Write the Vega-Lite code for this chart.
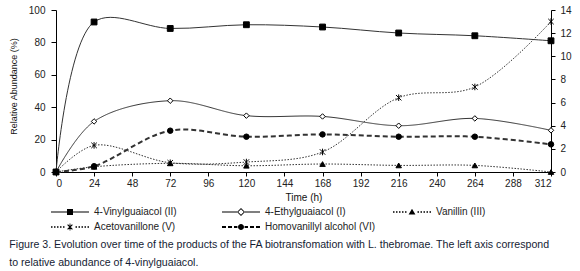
{
  "$schema": "https://vega.github.io/schema/vega-lite/v6.json",
  "width": 495,
  "height": 162,
  "autosize": {"type": "none"},
  "padding": {"left": 56, "top": 10, "right": 29, "bottom": 99},
  "background": "white",
  "config": {
    "view": {"stroke": null},
    "font": "Liberation Sans",
    "axis": {"grid": false, "domainColor": "#000", "tickColor": "#000", "labelColor": "#222", "labelFontSize": 10, "labelFont": "Liberation Sans", "titleFont": "Liberation Sans", "titleFontWeight": "normal", "titleColor": "#111", "domainWidth": 1, "tickWidth": 1}
  },
  "title": {
    "text": ["Figure 3. Evolution over time of the products of the FA biotransfomation with L. thebromae. The left axis correspond", " to relative abundance of 4-vinylguaiacol."],
    "orient": "bottom", "anchor": "start", "frame": "bounds", "font": "Liberation Sans", "fontSize": 10.6, "fontWeight": "normal", "color": "#141c33", "lineHeight": 18, "offset": 8
  },
  "data": {"values": [
    {"series": "4-Vinylguaiacol (II)", "t": 0, "value": 0},
    {"series": "4-Vinylguaiacol (II)", "t": 24, "value": 92.6},
    {"series": "4-Vinylguaiacol (II)", "t": 72, "value": 88.6},
    {"series": "4-Vinylguaiacol (II)", "t": 120, "value": 90.9},
    {"series": "4-Vinylguaiacol (II)", "t": 168, "value": 89.5},
    {"series": "4-Vinylguaiacol (II)", "t": 216, "value": 85.8},
    {"series": "4-Vinylguaiacol (II)", "t": 264, "value": 84.1},
    {"series": "4-Vinylguaiacol (II)", "t": 312, "value": 81},
    {"series": "4-Ethylguaiacol (I)", "t": 0, "value": 0},
    {"series": "4-Ethylguaiacol (I)", "t": 24, "value": 4.37},
    {"series": "4-Ethylguaiacol (I)", "t": 72, "value": 6.16},
    {"series": "4-Ethylguaiacol (I)", "t": 120, "value": 4.87},
    {"series": "4-Ethylguaiacol (I)", "t": 168, "value": 4.8},
    {"series": "4-Ethylguaiacol (I)", "t": 216, "value": 4.0},
    {"series": "4-Ethylguaiacol (I)", "t": 264, "value": 4.63},
    {"series": "4-Ethylguaiacol (I)", "t": 312, "value": 3.6},
    {"series": "Vanillin (III)", "t": 0, "value": 0},
    {"series": "Vanillin (III)", "t": 24, "value": 0.45},
    {"series": "Vanillin (III)", "t": 72, "value": 0.75},
    {"series": "Vanillin (III)", "t": 120, "value": 0.54},
    {"series": "Vanillin (III)", "t": 168, "value": 0.69},
    {"series": "Vanillin (III)", "t": 216, "value": 0.57},
    {"series": "Vanillin (III)", "t": 264, "value": 0.57},
    {"series": "Vanillin (III)", "t": 312, "value": 0},
    {"series": "Acetovanillone (V)", "t": 0, "value": 0},
    {"series": "Acetovanillone (V)", "t": 24, "value": 2.3},
    {"series": "Acetovanillone (V)", "t": 72, "value": 0.8},
    {"series": "Acetovanillone (V)", "t": 120, "value": 0.86},
    {"series": "Acetovanillone (V)", "t": 168, "value": 1.73},
    {"series": "Acetovanillone (V)", "t": 216, "value": 6.42},
    {"series": "Acetovanillone (V)", "t": 264, "value": 7.35},
    {"series": "Acetovanillone (V)", "t": 312, "value": 13.0},
    {"series": "Homovanillyl alcohol (VI)", "t": 0, "value": 0},
    {"series": "Homovanillyl alcohol (VI)", "t": 24, "value": 0.5},
    {"series": "Homovanillyl alcohol (VI)", "t": 72, "value": 3.57},
    {"series": "Homovanillyl alcohol (VI)", "t": 120, "value": 3.05},
    {"series": "Homovanillyl alcohol (VI)", "t": 168, "value": 3.25},
    {"series": "Homovanillyl alcohol (VI)", "t": 216, "value": 3.05},
    {"series": "Homovanillyl alcohol (VI)", "t": 264, "value": 3.05},
    {"series": "Homovanillyl alcohol (VI)", "t": 312, "value": 2.39}
  ]},
  "encoding": {
    "x": {"field": "t", "type": "quantitative", "scale": {"domain": [0, 312], "nice": false},
      "axis": {"values": [0, 24, 48, 72, 96, 120, 144, 168, 192, 216, 240, 264, 288, 312], "title": "Time (h)", "titleFontSize": 10, "tickSize": 4, "labelPadding": 2, "titlePadding": 4}}
  },
  "layer": [
    {
      "transform": [{"filter": "datum.series === '4-Vinylguaiacol (II)'"}],
      "encoding": {
        "y": {"field": "value", "type": "quantitative", "scale": {"domain": [0, 100], "nice": false},
          "axis": {"orient": "left", "values": [0, 20, 40, 60, 80, 100], "title": "Relative Abundance (%)", "titleFontSize": 9, "tickSize": 5, "labelPadding": 6, "titlePadding": 10, "titleY": 76}}
      },
      "layer": [
        {
          "mark": {"type": "line", "interpolate": "catmull-rom", "stroke": "#333", "strokeWidth": 1},
          "encoding": {"detail": {"field": "series", "type": "nominal"}}
        },
        {
          "mark": {"type": "point", "shape": "square", "stroke": "black", "strokeWidth": 1, "opacity": 1, "size": 34, "fill": "black"}
        }
      ]
    },
    {
      "transform": [{"filter": "datum.series !== '4-Vinylguaiacol (II)'"}],
      "encoding": {
        "y": {"field": "value", "type": "quantitative", "scale": {"domain": [0, 14], "nice": false},
          "axis": {"orient": "right", "values": [0, 2, 4, 6, 8, 10, 12, 14], "title": null, "tickSize": 4, "labelPadding": 5}}
      },
      "layer": [
        {
          "mark": {"type": "line", "interpolate": "catmull-rom", "stroke": "#333"},
          "encoding": {
            "detail": {"field": "series", "type": "nominal"},
            "strokeDash": {"condition": [{"test": "datum.series === 'Homovanillyl alcohol (VI)'", "value": [5, 3]}, {"test": "datum.series === 'Vanillin (III)' || datum.series === 'Acetovanillone (V)'", "value": [1.5, 1.5]}], "value": [1, 0]},
            "strokeWidth": {"condition": {"test": "datum.series === 'Homovanillyl alcohol (VI)'", "value": 2}, "value": 1}
          }
        },
        {
          "mark": {"type": "point", "stroke": "black", "strokeWidth": 1, "opacity": 1, "size": 30},
          "encoding": {
            "shape": {"condition": [
              {"test": "datum.series === '4-Ethylguaiacol (I)'", "value": "diamond"},
              {"test": "datum.series === 'Vanillin (III)'", "value": "triangle-up"},
              {"test": "datum.series === 'Acetovanillone (V)'", "value": "M-1,-1L1,1M-1,1L1,-1M0,-1.2L0,1.2"}
            ], "value": "circle"},
            "fill": {"condition": {"test": "datum.series === '4-Ethylguaiacol (I)'", "value": "white"}, "value": "black"}
          }
        },
        {
          "mark": {"type": "point", "filled": true, "fill": "black", "opacity": 0, "strokeWidth": 0, "size": 64},
          "encoding": {
            "shape": {"field": "series", "type": "nominal",
              "scale": {"domain": ["4-Vinylguaiacol (II)", "4-Ethylguaiacol (I)", "Vanillin (III)", "Acetovanillone (V)", "Homovanillyl alcohol (VI)"],
                "range": [
                  "M-4.75,-0.125H-0.7V0.125H-4.75ZM0.7,-0.125H4.75V0.125H0.7ZM-0.75,-0.75H0.75V0.75H-0.75Z",
                  "M-4.75,-0.125H-1V0.125H-4.75ZM1,-0.125H4.75V0.125H1ZM0,-1L1,0L0,1L-1,0ZM0,-0.7L-0.7,0L0,0.7L0.7,0Z",
                  "M-4.75,-0.1875h0.375v0.375h-0.375ZM-4,-0.1875h0.375v0.375h-0.375ZM-3.25,-0.1875h0.375v0.375h-0.375ZM-2.5,-0.1875h0.375v0.375h-0.375ZM-1.75,-0.1875h0.375v0.375h-0.375ZM1.375,-0.1875h0.375v0.375h-0.375ZM2.125,-0.1875h0.375v0.375h-0.375ZM2.875,-0.1875h0.375v0.375h-0.375ZM3.625,-0.1875h0.375v0.375h-0.375ZM4.375,-0.1875h0.375v0.375h-0.375ZM0,-0.8L0.85,0.65L-0.85,0.65Z",
                  "M-4.75,-0.1875h0.375v0.375h-0.375ZM-4,-0.1875h0.375v0.375h-0.375ZM-3.25,-0.1875h0.375v0.375h-0.375ZM-2.5,-0.1875h0.375v0.375h-0.375ZM-1.75,-0.1875h0.375v0.375h-0.375ZM1.375,-0.1875h0.375v0.375h-0.375ZM2.125,-0.1875h0.375v0.375h-0.375ZM2.875,-0.1875h0.375v0.375h-0.375ZM3.625,-0.1875h0.375v0.375h-0.375ZM4.375,-0.1875h0.375v0.375h-0.375ZM-0.1,-0.85H0.1V0.85H-0.1ZM-0.5,-0.7L0.7,0.5L0.5,0.7L-0.7,-0.5ZM0.5,-0.7L0.7,-0.5L-0.5,0.7L-0.7,0.5Z",
                  "M-4.75,-0.25H-3.75V0.25H-4.75ZM-3.25,-0.25H-2.25V0.25H-3.25ZM-1.75,-0.25H-0.9V0.25H-1.75ZM0.9,-0.25H1.75V0.25H0.9ZM2.25,-0.25H3.25V0.25H2.25ZM3.75,-0.25H4.75V0.25H3.75ZM-0.75,0A0.75,0.75 0 1,1 0.75,0A0.75,0.75 0 1,1 -0.75,0Z"
                ]},
              "legend": {
                "orient": "none", "legendX": -6, "legendY": 197, "columns": 3, "direction": "horizontal", "title": null,
                "symbolSize": 64, "symbolOffset": 15, "labelOffset": 19, "labelFontSize": 10, "labelFont": "Liberation Sans", "labelColor": "#222",
                "columnPadding": 16, "rowPadding": 5, "gridAlign": "all", "symbolOpacity": 1,
                "symbolFillColor": "black", "symbolStrokeWidth": 0
              }
            }
          }
        }
      ]
    }
  ],
  "resolve": {"scale": {"y": "independent"}}
}
